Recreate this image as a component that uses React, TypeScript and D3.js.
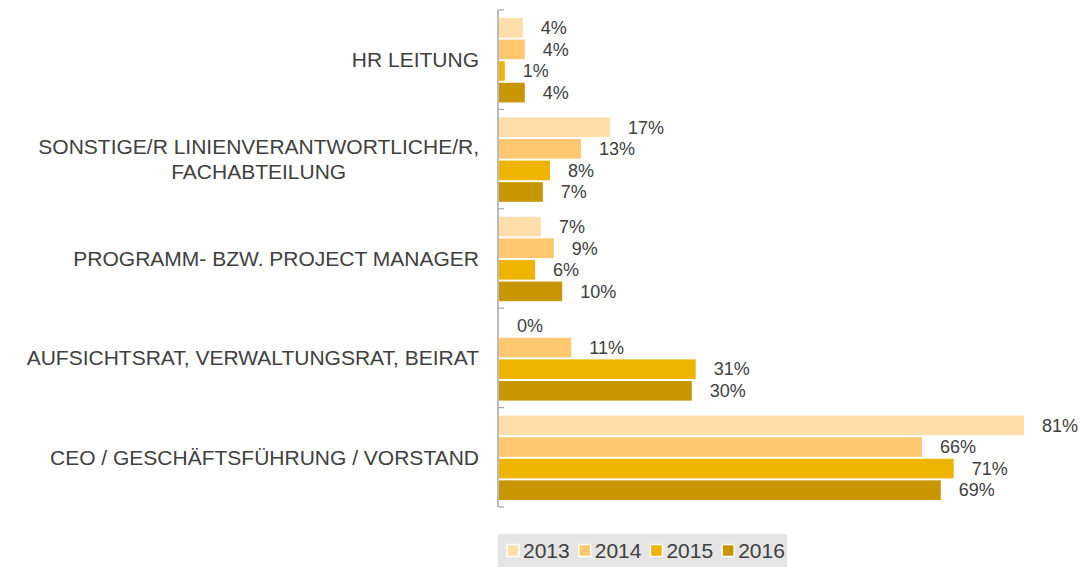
import React, { useEffect, useRef } from "react";
import * as d3 from "d3";

const categories = [
  ["HR LEITUNG"],
  ["SONSTIGE/R LINIENVERANTWORTLICHE/R,", "FACHABTEILUNG"],
  ["PROGRAMM- BZW. PROJECT MANAGER"],
  ["AUFSICHTSRAT, VERWALTUNGSRAT, BEIRAT"],
  ["CEO / GESCHÄFTSFÜHRUNG / VORSTAND"],
];
const years = ["2013", "2014", "2015", "2016"];
const colors = ["#FFDEAA", "#FFC86E", "#EFB400", "#C89600"];
const v2013 = [3.7, 17.2, 6.5, 0, 81.4];
const v2014 = [4.0, 12.7, 8.5, 11.2, 65.6];
const v2015 = [0.9, 7.9, 5.6, 30.5, 70.5];
const v2016 = [4.0, 6.8, 9.8, 29.9, 68.5];
const series = [v2013, v2014, v2015, v2016];

export default function App() {
  const ref = useRef<SVGSVGElement>(null);
  useEffect(() => {
    const svg = d3.select(ref.current);
    svg.selectAll("*").remove();
    const font = "'Liberation Sans', Arial, sans-serif";
    const x0 = 499;
    const x = d3.scaleLinear().domain([0, 81.4]).range([x0, 1024]);
    const yBand = d3.scaleBand<number>().domain(d3.range(categories.length)).range([10, 507]);
    const ySub = d3.scaleBand<number>().domain(d3.range(years.length)).range([8, yBand.bandwidth() - 7]).paddingInner(0.09);

    const g = svg.append("g");
    categories.forEach((_, ci) => {
      const cg = g.append("g").attr("transform", `translate(0,${yBand(ci)})`);
      series.forEach((s, si) => {
        const v = s[ci];
        cg.append("rect")
          .attr("x", x0)
          .attr("y", ySub(si)!)
          .attr("width", Math.max(0, x(v) - x0))
          .attr("height", ySub.bandwidth())
          .attr("fill", colors[si]);
        cg.append("text")
          .attr("x", x(v) + 18)
          .attr("y", ySub(si)! + ySub.bandwidth() / 2)
          .attr("dy", "0.35em")
          .attr("font-family", font)
          .attr("font-size", 18)
          .attr("fill", "#404040")
          .text(`${Math.round(v)}%`);
      });
    });

    // axis
    svg.append("line").attr("x1", 498).attr("x2", 498).attr("y1", 10).attr("y2", 507).attr("stroke", "#A6A6A6").attr("stroke-width", 1.5);
    d3.range(categories.length + 1).forEach((i) => {
      const yy = i < categories.length ? yBand(i)! : 507;
      svg.append("line").attr("x1", 498).attr("x2", 504).attr("y1", yy).attr("y2", yy).attr("stroke", "#A6A6A6").attr("stroke-width", 1.2);
    });

    // category labels
    categories.forEach((lines, ci) => {
      const cy = yBand(ci)! + yBand.bandwidth() / 2;
      const lh = 25;
      const t = svg.append("text")
        .attr("font-family", font)
        .attr("font-size", 21)
        .attr("fill", "#404040")
        .attr("text-anchor", "middle");
      const tspans = lines.map((l, li) =>
        t.append("tspan").attr("y", cy + (li - (lines.length - 1) / 2) * lh).attr("dy", "0.35em").text(l)
      );
      let maxW = 0;
      tspans.forEach((ts) => { maxW = Math.max(maxW, (ts.node() as SVGTSpanElement).getComputedTextLength()); });
      const cx = 479 - maxW / 2;
      tspans.forEach((ts) => ts.attr("x", cx));
    });

    // legend
    const lg = svg.append("g");
    lg.append("rect").attr("x", 498).attr("y", 534).attr("width", 289).attr("height", 33).attr("fill", "#E5E5E5");
    let lx = 507;
    years.forEach((yr, i) => {
      lg.append("rect").attr("x", lx).attr("y", 544.5).attr("width", 12).attr("height", 12).attr("fill", colors[i]).attr("stroke", "#fff").attr("stroke-width", 1.5);
      const tt = lg.append("text").attr("x", lx + 16).attr("y", 551).attr("dy", "0.35em")
        .attr("font-family", font).attr("font-size", 21).attr("fill", "#404040").text(yr);
      lx += 16 + (tt.node() as SVGTextElement).getComputedTextLength() + 9;
    });
  }, []);
  return (
    <svg ref={ref} width={1080} height={567} style={{ position: "absolute", left: 0, top: 0, background: "#fff" }} />
  );
}
